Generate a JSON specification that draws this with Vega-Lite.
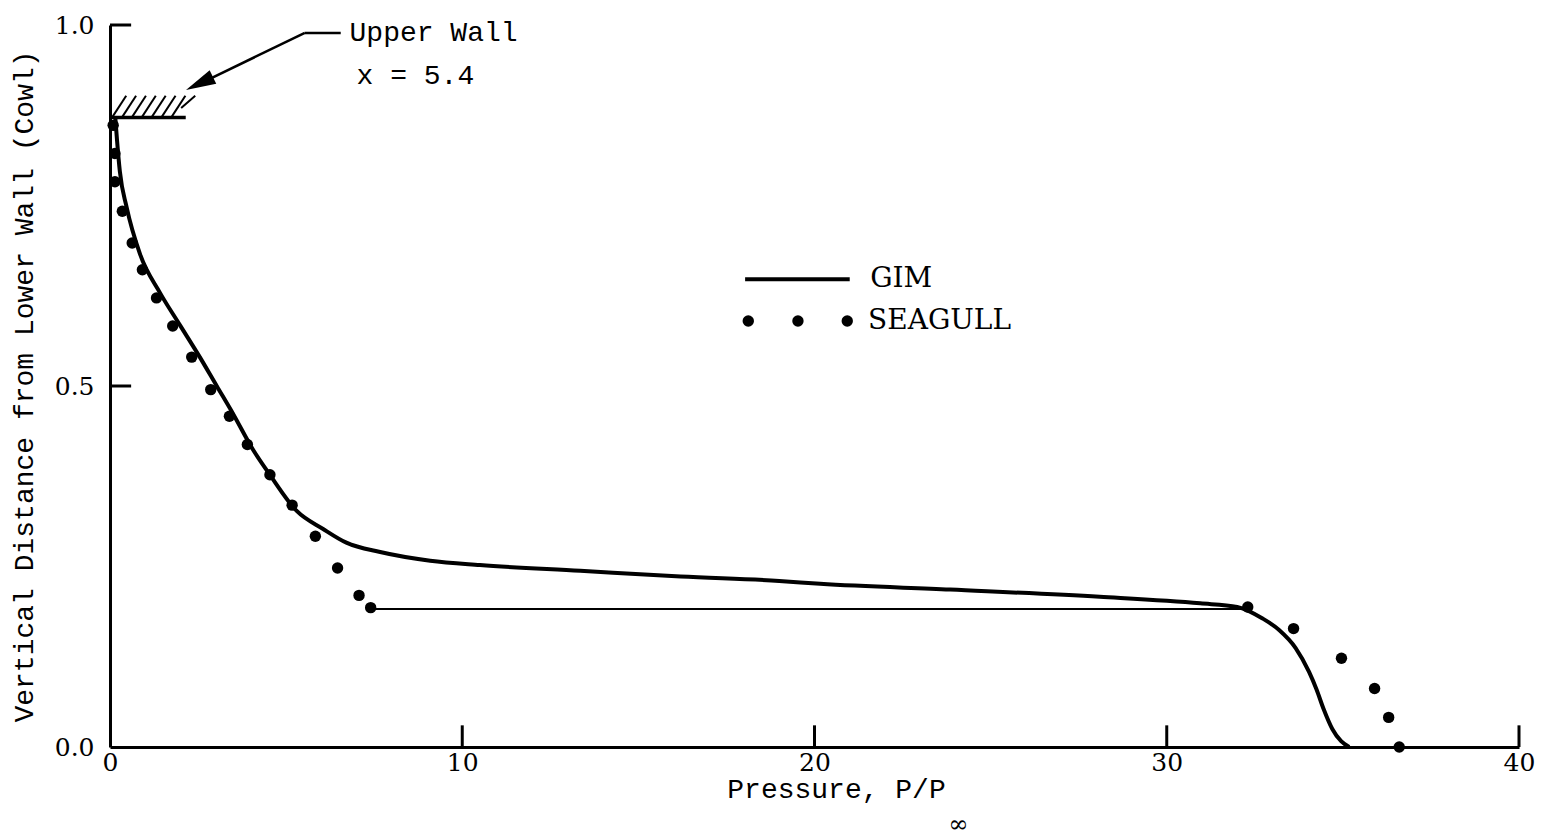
{
  "$schema": "https://vega.github.io/schema/vega-lite/v6.json",
  "width": 1409,
  "height": 722,
  "autosize": {"type": "none"},
  "padding": {"left": 110, "top": 25, "right": 28, "bottom": 90},
  "background": "white",
  "config": {"view": {"stroke": null}},
  "datasets": {
    "gim": [
      {"p": 0.15, "d": 0.872}, {"p": 0.2, "d": 0.84}, {"p": 0.28, "d": 0.797}, {"p": 0.47, "d": 0.748},
      {"p": 0.85, "d": 0.683}, {"p": 1.42, "d": 0.629}, {"p": 1.99, "d": 0.584}, {"p": 2.55, "d": 0.54},
      {"p": 3.03, "d": 0.5}, {"p": 3.5, "d": 0.461}, {"p": 4.07, "d": 0.411}, {"p": 4.54, "d": 0.377},
      {"p": 5.3, "d": 0.327}, {"p": 6.05, "d": 0.302}, {"p": 6.71, "d": 0.283}, {"p": 7.67, "d": 0.27},
      {"p": 9.09, "d": 0.258}, {"p": 10.5, "d": 0.252}, {"p": 13.35, "d": 0.244}, {"p": 16.2, "d": 0.236},
      {"p": 19.0, "d": 0.23}, {"p": 20.16, "d": 0.226}, {"p": 23.85, "d": 0.218}, {"p": 28.1, "d": 0.208},
      {"p": 30.95, "d": 0.199}, {"p": 32.0, "d": 0.194}, {"p": 32.72, "d": 0.178}, {"p": 33.19, "d": 0.162},
      {"p": 33.66, "d": 0.137}, {"p": 34.04, "d": 0.104}, {"p": 34.25, "d": 0.08}, {"p": 34.45, "d": 0.053},
      {"p": 34.7, "d": 0.025}, {"p": 34.95, "d": 0.008}, {"p": 35.18, "d": 0.0}
    ],
    "seagull": [
      {"p": 0.09, "d": 0.861}, {"p": 0.14, "d": 0.822}, {"p": 0.14, "d": 0.783}, {"p": 0.35, "d": 0.742},
      {"p": 0.63, "d": 0.698}, {"p": 0.92, "d": 0.661}, {"p": 1.32, "d": 0.622}, {"p": 1.78, "d": 0.583},
      {"p": 2.32, "d": 0.54}, {"p": 2.86, "d": 0.495}, {"p": 3.39, "d": 0.458}, {"p": 3.9, "d": 0.419},
      {"p": 4.54, "d": 0.377}, {"p": 5.17, "d": 0.335}, {"p": 5.83, "d": 0.292}, {"p": 6.46, "d": 0.248},
      {"p": 7.07, "d": 0.21}, {"p": 7.4, "d": 0.193},
      {"p": 32.3, "d": 0.194}, {"p": 33.6, "d": 0.164}, {"p": 34.96, "d": 0.123}, {"p": 35.9, "d": 0.081},
      {"p": 36.3, "d": 0.041}, {"p": 36.6, "d": 0.0}
    ],
    "hatch": [
      {"p": 0.06, "d": 0.872, "p2": 0.46, "d2": 0.902}, {"p": 0.34, "d": 0.872, "p2": 0.74, "d2": 0.902},
      {"p": 0.62, "d": 0.872, "p2": 1.02, "d2": 0.902}, {"p": 0.9, "d": 0.872, "p2": 1.3, "d2": 0.902},
      {"p": 1.18, "d": 0.872, "p2": 1.58, "d2": 0.902}, {"p": 1.46, "d": 0.872, "p2": 1.86, "d2": 0.902},
      {"p": 1.74, "d": 0.872, "p2": 2.14, "d2": 0.902}, {"p": 2.02, "d": 0.885, "p2": 2.42, "d2": 0.902}
    ],
    "wall": [{"p": 0.0, "d": 0.872, "p2": 2.15, "d2": 0.872}],
    "arrow": [
      {"p": 5.53, "d": 0.989, "p2": 6.55, "d2": 0.989},
      {"p": 5.53, "d": 0.989, "p2": 2.6, "d2": 0.92}
    ],
    "arrowhead": [{"p": 2.54, "d": 0.919}],
    "shock": [{"p": 7.4, "d": 0.191, "p2": 32.2, "d2": 0.191}],
    "xticks": [
      {"p": 10, "d": 0, "p2": 10, "d2": 0.03}, {"p": 20, "d": 0, "p2": 20, "d2": 0.03},
      {"p": 30, "d": 0, "p2": 30, "d2": 0.03}, {"p": 40, "d": 0, "p2": 40, "d2": 0.03}
    ],
    "yticks": [
      {"p": 0, "d": 0.5, "p2": 0.6, "d2": 0.5}, {"p": 0, "d": 1.0, "p2": 0.6, "d2": 1.0}
    ],
    "legline": [{"p": 18.03, "d": 0.648, "p2": 21.0, "d2": 0.648}],
    "legdots": [{"p": 18.12, "d": 0.59}, {"p": 19.53, "d": 0.59}, {"p": 20.93, "d": 0.59}],
    "legtext": [{"p": 21.58, "d": 0.648, "t": "GIM"}, {"p": 21.52, "d": 0.59, "t": "SEAGULL"}],
    "notes": [{"p": 6.8, "d": 0.989, "t": "Upper Wall"}, {"p": 7.0, "d": 0.929, "t": "x = 5.4"}],
    "sub": [{"p": 24.08, "d": -0.108, "t": "∞"}]
  },
  "encoding": {
    "x": {
      "field": "p", "type": "quantitative",
      "scale": {"domain": [0, 40], "nice": false, "zero": false},
      "axis": {
        "title": "Pressure, P/P", "values": [0, 10, 20, 30, 40], "format": "d",
        "grid": false, "ticks": false, "domainWidth": 3, "domainColor": "black",
        "labelFont": "DejaVu Serif", "labelFontSize": 25, "labelColor": "black", "labelPadding": 3,
        "labelFlush": false,
        "titleFont": "Liberation Mono", "titleFontSize": 28, "titleFontWeight": "normal", "titleColor": "black",
        "titleX": 726, "titlePadding": 0
      }
    },
    "y": {
      "field": "d", "type": "quantitative",
      "scale": {"domain": [0, 1], "nice": false, "zero": false},
      "axis": {
        "title": "Vertical Distance from Lower Wall (Cowl)", "values": [0, 0.5, 1.0], "format": ".1f",
        "grid": false, "ticks": false, "domainWidth": 3, "domainColor": "black",
        "labelFont": "DejaVu Serif", "labelFontSize": 25, "labelColor": "black", "labelPadding": 16,
        "labelFlush": false,
        "titleFont": "Liberation Mono", "titleFontSize": 28, "titleFontWeight": "normal", "titleColor": "black",
        "titlePadding": 16
      }
    }
  },
  "layer": [
    {"data": {"name": "hatch"}, "mark": {"type": "rule", "color": "black", "strokeWidth": 2},
     "encoding": {"x2": {"field": "p2"}, "y2": {"field": "d2"}}},
    {"data": {"name": "wall"}, "mark": {"type": "rule", "color": "black", "strokeWidth": 3.5},
     "encoding": {"x2": {"field": "p2"}, "y2": {"field": "d2"}}},
    {"data": {"name": "arrow"}, "mark": {"type": "rule", "color": "black", "strokeWidth": 2.5},
     "encoding": {"x2": {"field": "p2"}, "y2": {"field": "d2"}}},
    {"data": {"name": "arrowhead"}, "mark": {"type": "point", "shape": "M0,-1L0.5,1L-0.5,1Z", "filled": true, "color": "black", "opacity": 1, "size": 900, "angle": 244}},
    {"data": {"name": "xticks"}, "mark": {"type": "rule", "color": "black", "strokeWidth": 3},
     "encoding": {"x2": {"field": "p2"}, "y2": {"field": "d2"}}},
    {"data": {"name": "yticks"}, "mark": {"type": "rule", "color": "black", "strokeWidth": 3},
     "encoding": {"x2": {"field": "p2"}, "y2": {"field": "d2"}}},
    {"data": {"name": "shock"}, "mark": {"type": "rule", "color": "black", "strokeWidth": 2},
     "encoding": {"x2": {"field": "p2"}, "y2": {"field": "d2"}}},
    {"data": {"name": "gim"}, "mark": {"type": "line", "color": "black", "strokeWidth": 4, "interpolate": "monotone"},
     "encoding": {"order": {"field": "p", "type": "quantitative"}}},
    {"data": {"name": "seagull"}, "mark": {"type": "circle", "color": "black", "opacity": 1, "size": 130}},
    {"data": {"name": "legline"}, "mark": {"type": "rule", "color": "black", "strokeWidth": 4},
     "encoding": {"x2": {"field": "p2"}, "y2": {"field": "d2"}}},
    {"data": {"name": "legdots"}, "mark": {"type": "circle", "color": "black", "opacity": 1, "size": 130}},
    {"data": {"name": "legtext"}, "mark": {"type": "text", "align": "left", "baseline": "middle", "font": "DejaVu Serif", "fontSize": 28, "color": "black"},
     "encoding": {"text": {"field": "t"}}},
    {"data": {"name": "notes"}, "mark": {"type": "text", "align": "left", "baseline": "middle", "font": "Liberation Mono", "fontSize": 28, "color": "black"},
     "encoding": {"text": {"field": "t"}}},
    {"data": {"name": "sub"}, "mark": {"type": "text", "align": "center", "baseline": "middle", "font": "DejaVu Serif", "fontSize": 24, "color": "black"},
     "encoding": {"text": {"field": "t"}}}
  ]
}
